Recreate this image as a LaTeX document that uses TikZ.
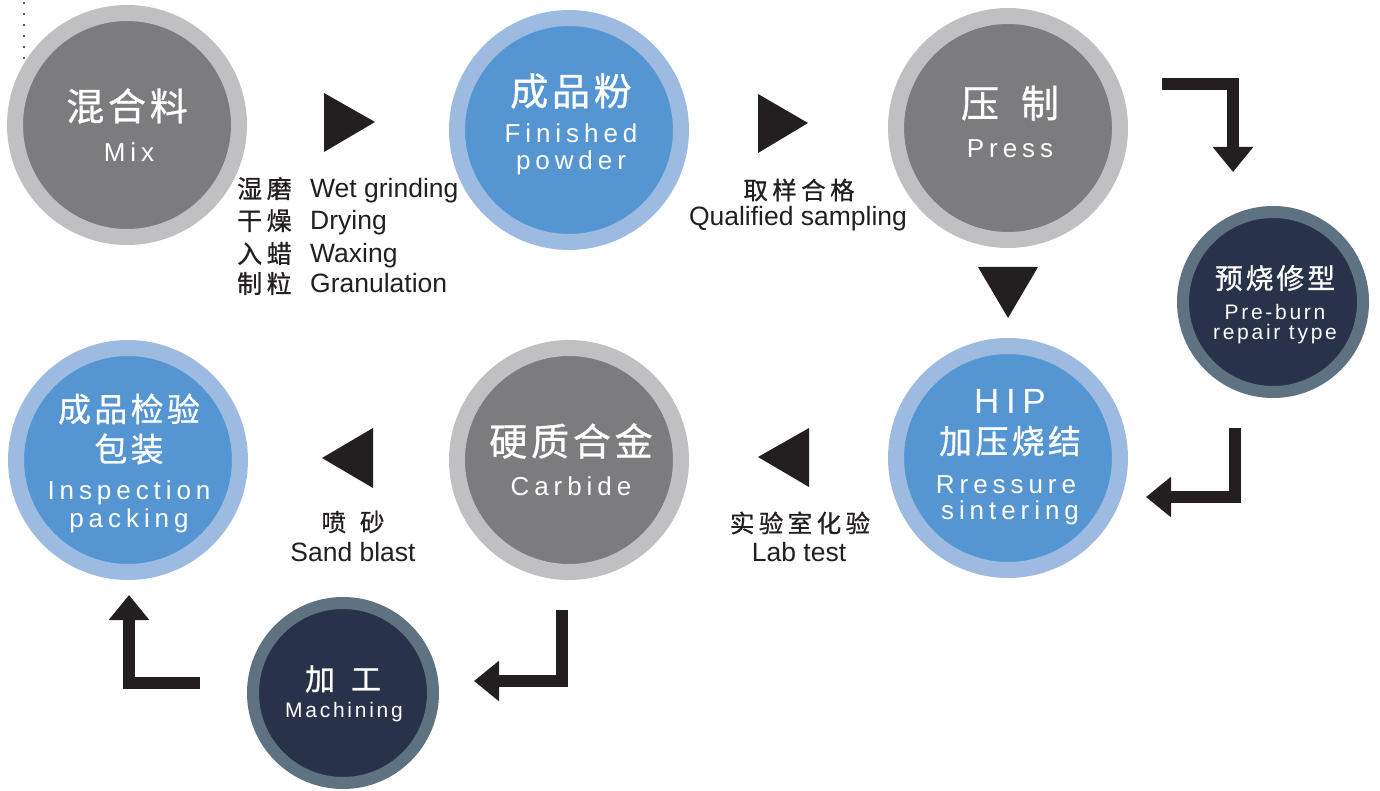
\documentclass[tikz,border=0pt]{standalone}
\usepackage{fontspec}
\setmainfont{Liberation Sans}
\newfontfamily\wide{Liberation Sans}[LetterSpace=19]
\newfontfamily\semiwide{Liberation Sans}[LetterSpace=13]
\newfontfamily\cjk{Noto Sans CJK SC}[LetterSpace=10,FakeBold=0.8]
\newfontfamily\cjklab{Noto Sans CJK SC}[LetterSpace=18,FakeBold=0.8]
\usetikzlibrary{arrows.meta}
\definecolor{grayout}{HTML}{C0C0C2}
\definecolor{grayin}{HTML}{7C7C7E}
\definecolor{blueout}{HTML}{9DBBE1}
\definecolor{bluein}{HTML}{5596D2}
\definecolor{darkout}{HTML}{5E7282}
\definecolor{darkin}{HTML}{283349}
\definecolor{ink}{HTML}{231F20}
\tikzset{
  bigcircle/.style={circle, minimum size=224pt, inner sep=0pt, line width=16pt, draw=#1out, fill=#1in},
  smallcircle/.style={circle, minimum size=180pt, inner sep=0pt, line width=12pt, draw=#1out, fill=#1in},
  wt/.style={text=white, inner sep=0pt, anchor=center},
  lab/.style={text=ink, inner sep=0pt},
  elbow/.style={draw=ink, line width=12pt, line join=miter, -{Triangle[length=25pt,width=39pt]}},
  tri/.style={fill=ink, draw=none},
}
\newcommand{\fs}[1]{\fontsize{#1}{#1}\selectfont}
\begin{document}
\begin{tikzpicture}[x=1pt,y=-1pt]
\useasboundingbox (0,0) rectangle (1380,791);
% dotted line
\foreach \yy in {3,14,25,36,47,58} \fill[ink] (24,\yy) circle (1.1);
% circles
\node[bigcircle=gray] (mix) at (127,125) {};
\node[bigcircle=blue] (powder) at (569,130) {};
\node[bigcircle=gray] (press) at (1008,128) {};
\node[smallcircle=dark] (preburn) at (1273,302) {};
\node[bigcircle=blue] (hip) at (1008,458) {};
\node[bigcircle=gray] (carbide) at (569,460) {};
\node[bigcircle=blue] (insp) at (128,460) {};
\node[smallcircle=dark] (mach) at (343,693) {};
% circle texts
\node[wt] (t1a) at (127,106) {\cjk\fs{38}混合料};
\node[wt] (t1b) at (129,152) {\wide\fs{26}Mix};
\node[wt] (t2a) at (571,91) {\cjk\fs{38}成品粉};
\node[wt] (t2b) at (571,133) {\wide\fs{26}Finished};
\node[wt] (t2c) at (571,163) {\wide\fs{26}powder};
\node[wt] (t3a) at (1010,103) {\cjk\fs{38}压\hspace{22pt}制};
\node[wt] (t3b) at (1010,149) {\wide\fs{26}Press};
\node[wt] (t4a) at (1275,278) {\cjk\fs{28}预烧修型};
\node[wt] (t4b) at (1275,312) {\semiwide\fs{21}Pre-burn};
\node[wt] (t4c) at (1275,334) {\semiwide\fs{21}repair type};
\node[wt] (t5a) at (1010,401) {\wide\fs{35}HIP};
\node[wt] (t5b) at (1010,441) {\cjk\fs{33}加压烧结};
\node[wt] (t5c) at (1006,485) {\wide\fs{26}Rressure};
\node[wt] (t5d) at (1010,513) {\wide\fs{26}sintering};
\node[wt] (t6a) at (571,441) {\cjk\fs{38}硬质合金};
\node[wt] (t6b) at (571,486) {\wide\fs{26}Carbide};
\node[wt] (t7a) at (129,409) {\cjk\fs{33}成品检验};
\node[wt] (t7b) at (129,449) {\cjk\fs{33}包装};
\node[wt] (t7c) at (129,493) {\wide\fs{26}Inspection};
\node[wt] (t7d) at (129,521) {\wide\fs{26}packing};
\node[wt] (t8a) at (343,679) {\cjk\fs{30}加\hspace{16pt}工};
\node[wt] (t8b) at (344,712) {\semiwide\fs{21}Machining};
% step labels
\node[lab, anchor=base west] (l1a) at (237,198) {\cjklab\fs{25}湿磨};
\node[lab, anchor=base west] (l1b) at (310,198) {\fs{26.5}Wet grinding};
\node[lab, anchor=base west] (l2a) at (237,230) {\cjklab\fs{25}干燥};
\node[lab, anchor=base west] (l2b) at (310,230) {\fs{26.5}Drying};
\node[lab, anchor=base west] (l3a) at (237,263) {\cjklab\fs{25}入蜡};
\node[lab, anchor=base west] (l3b) at (310,263) {\fs{26.5}Waxing};
\node[lab, anchor=base west] (l4a) at (237,293) {\cjklab\fs{25}制粒};
\node[lab, anchor=base west] (l4b) at (310,293) {\fs{26.5}Granulation};
\node[lab, anchor=center] (q1) at (799,190) {\cjklab\fs{24.5}取样合格};
\node[lab, anchor=center] (q2) at (798,219) {\fs{26.5}Qualified sampling};
\node[lab, anchor=center] (lt1) at (800,523) {\cjklab\fs{24.5}实验室化验};
\node[lab, anchor=center] (lt2) at (799,552) {\fs{26.5}Lab test};
\node[lab, anchor=center] (sb1) at (353,522) {\cjk\fs{24.5}喷\hspace{14pt}砂};
\node[lab, anchor=center] (sb2) at (353,552) {\fs{26.5}Sand blast};
% triangles
\fill[tri] (324,93) -- (375,122) -- (324,152) -- cycle;
\fill[tri] (758,94) -- (808,123) -- (758,153) -- cycle;
\fill[tri] (978,267) -- (1038,267) -- (1008,318) -- cycle;
\fill[tri] (373,428) -- (322,458) -- (373,488) -- cycle;
\fill[tri] (809,428) -- (758,457) -- (809,487) -- cycle;
% elbow arrows
\coordinate (e1s) at (1162,84);
\coordinate (e1c) at (1233,84);
\coordinate (e1e) at (1233,172);
\draw[elbow] (e1s) -- (e1c) -- (e1e);
\coordinate (e2s) at (1235,428);
\coordinate (e2c) at (1235,497);
\coordinate (e2e) at (1146,497);
\draw[elbow] (e2s) -- (e2c) -- (e2e);
\coordinate (e3s) at (562,610);
\coordinate (e3c) at (562,681);
\coordinate (e3e) at (474,681);
\draw[elbow] (e3s) -- (e3c) -- (e3e);
\coordinate (e4s) at (200,683);
\coordinate (e4c) at (129,683);
\coordinate (e4e) at (129,595);
\draw[elbow] (e4s) -- (e4c) -- (e4e);
\end{tikzpicture}
\end{document}
